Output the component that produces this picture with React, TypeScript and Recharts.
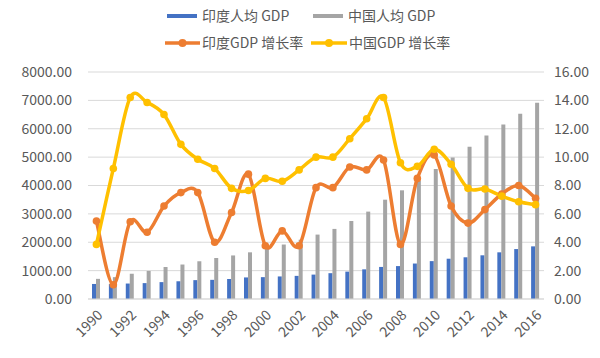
import React from 'react';
import { ComposedChart, Bar, Line, XAxis, YAxis, CartesianGrid } from 'recharts';

const years = ['1990','1991','1992','1993','1994','1995','1996','1997','1998','1999','2000','2001','2002','2003','2004','2005','2006','2007','2008','2009','2010','2011','2012','2013','2014','2015','2016'];
const indiaPerCapita = [530, 525, 545, 560, 595, 625, 665, 675, 705, 760, 770, 795, 815, 860, 910, 965, 1045, 1130, 1160, 1250, 1335, 1420, 1470, 1540, 1645, 1760, 1855];
const chinaPerCapita = [710, 770, 890, 990, 1127, 1215, 1330, 1445, 1535, 1645, 1790, 1920, 2090, 2270, 2470, 2750, 3080, 3500, 3830, 4175, 4580, 4990, 5370, 5760, 6150, 6530, 6920];
const indiaGrowth = [5.5, 1.0, 5.45, 4.7, 6.55, 7.5, 7.5, 4.0, 6.1, 8.8, 3.75, 4.8, 3.75, 7.85, 7.85, 9.3, 9.1, 9.8, 3.85, 8.5, 10.15, 6.55, 5.35, 6.3, 7.4, 8.0, 7.1];
const chinaGrowth = [3.85, 9.2, 14.2, 13.85, 13.0, 10.9, 9.85, 9.2, 7.8, 7.65, 8.5, 8.3, 9.1, 10.0, 10.0, 11.3, 12.7, 14.2, 9.6, 9.35, 10.55, 9.5, 7.8, 7.75, 7.25, 6.85, 6.65];
const leftTicks = [0, 1000, 2000, 3000, 4000, 5000, 6000, 7000, 8000];
const rightTicks = [0, 2, 4, 6, 8, 10, 12, 14, 16];

const names = { india: '印度人均 GDP', china: '中国人均 GDP', indiaG: '印度GDP 增长率', chinaG: '中国GDP 增长率' };

const data = years.map((y, i) => ({
  year: y,
  india: indiaPerCapita[i],
  china: chinaPerCapita[i],
  indiaG: indiaGrowth[i],
  chinaG: chinaGrowth[i],
}));

// Excel-like smoothing (Catmull-Rom / cardinal with 1/6 factor)
class ExcelCurve {
  _context: any;
  _pts: number[][] = [];
  constructor(context: any) { this._context = context; }
  areaStart() {}
  areaEnd() {}
  lineStart() { this._pts = []; }
  point(x: number, y: number) { this._pts.push([+x, +y]); }
  lineEnd() {
    const p = this._pts;
    const c = this._context;
    if (!p.length) return;
    c.moveTo(p[0][0], p[0][1]);
    for (let i = 0; i < p.length - 1; i++) {
      const p0 = p[i - 1] || p[i];
      const p1 = p[i];
      const p2 = p[i + 1];
      const p3 = p[i + 2] || p[i + 1];
      const c1x = p1[0] + (p2[0] - p0[0]) / 6;
      const c1y = p1[1] + (p2[1] - p0[1]) / 6;
      const c2x = p2[0] - (p3[0] - p1[0]) / 6;
      const c2y = p2[1] - (p3[1] - p1[1]) / 6;
      c.bezierCurveTo(c1x, c1y, c2x, c2y, p2[0], p2[1]);
    }
  }
}
const excelCurve: any = (ctx: any) => new ExcelCurve(ctx);

const FONT = '"Noto Sans CJK SC", "Noto Sans", sans-serif';
const TXT = '#595959';

const Legend = () => (
  <svg width={600} height={60} style={{ position: 'absolute', left: 0, top: 0 }}>
    <g fontFamily={FONT} fontSize={14} fill={TXT}>
      <rect x={167} y={14} width={30} height={4} fill="#4472C4" />
      <text x={202} y={21}>{names.india}</text>
      <rect x={313} y={14} width={30} height={4} fill="#A5A5A5" />
      <text x={348} y={21}>{names.china}</text>
      <line x1={165} x2={200} y1={43} y2={43} stroke="#ED7D31" strokeWidth={3.5} />
      <circle cx={182.5} cy={43} r={4} fill="#ED7D31" />
      <text x={202} y={48}>{names.indiaG}</text>
      <line x1={311} x2={347} y1={43} y2={43} stroke="#FFC000" strokeWidth={3.5} />
      <circle cx={329} cy={43} r={4} fill="#FFC000" />
      <text x={349} y={48}>{names.chinaG}</text>
    </g>
  </svg>
);

export default function App() {
  return (
    <div style={{ position: 'absolute', left: 0, top: 0, width: 600, height: 358, background: '#fff' }}>
      <ComposedChart
        width={600}
        height={358}
        data={data}
        margin={{ top: 72, right: 0, bottom: 0, left: 0 }}
        barGap={0}
        barSize={4}
      >
        <CartesianGrid vertical={false} stroke="#D9D9D9" strokeWidth={1} yAxisId="left" />
        <XAxis
          dataKey="year"
          height={59}
          interval={1}
          tickLine={false}
          axisLine={{ stroke: '#D9D9D9', strokeWidth: 1 }}
          tickSize={6}
          tickMargin={4}
          angle={-45}
          textAnchor="end"
          tick={{ fill: TXT, fontSize: 14, fontFamily: FONT }}
        />
        <YAxis
          yAxisId="left"
          orientation="left"
          width={88}
          domain={[0, 8000]}
          ticks={leftTicks}
          tickFormatter={(v: number) => v.toFixed(2)}
          axisLine={false}
          tickLine={false}
          tickSize={6}
          tickMargin={10}
          tick={{ fill: TXT, fontSize: 14, fontFamily: FONT }}
        />
        <YAxis
          yAxisId="right"
          orientation="right"
          width={56}
          domain={[0, 16]}
          ticks={rightTicks}
          tickFormatter={(v: number) => v.toFixed(2)}
          axisLine={false}
          tickLine={false}
          tickSize={6}
          tickMargin={4}
          tick={{ fill: TXT, fontSize: 14, fontFamily: FONT }}
        />
        <Bar yAxisId="left" dataKey="india" name={names.india} fill="#4472C4" isAnimationActive={false} />
        <Bar yAxisId="left" dataKey="china" name={names.china} fill="#A5A5A5" isAnimationActive={false} />
        <Line
          yAxisId="right"
          dataKey="indiaG"
          name={names.indiaG}
          type={excelCurve}
          stroke="#ED7D31"
          strokeWidth={3.5}
          dot={{ r: 3.8, fill: '#ED7D31', stroke: '#ED7D31', strokeWidth: 0 }}
          activeDot={false}
          isAnimationActive={false}
        />
        <Line
          yAxisId="right"
          dataKey="chinaG"
          name={names.chinaG}
          type={excelCurve}
          stroke="#FFC000"
          strokeWidth={3.5}
          dot={{ r: 3.8, fill: '#FFC000', stroke: '#FFC000', strokeWidth: 0 }}
          activeDot={false}
          isAnimationActive={false}
        />
      </ComposedChart>
      <Legend />
    </div>
  );
}
